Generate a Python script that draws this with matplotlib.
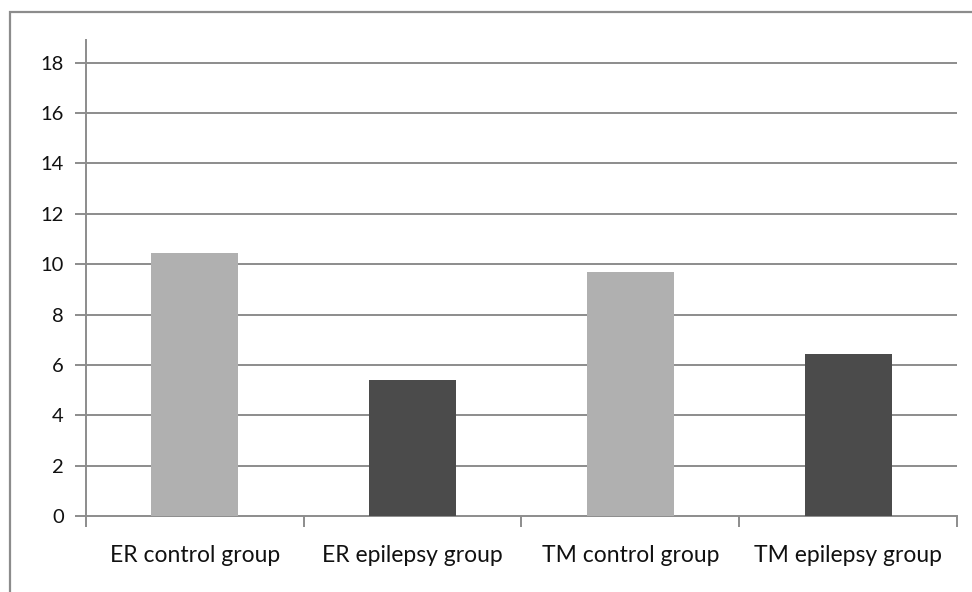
import matplotlib.pyplot as plt
from matplotlib.patches import Rectangle
import numpy as np

plt.rcParams['font.family'] = ['Lato', 'DejaVu Sans']

# Data
groups = ["ER control group", "ER epilepsy group", "TM control group", "TM epilepsy group"]
values = [10.45, 5.4, 9.7, 6.42]
colors = ["#b0b0b0", "#4b4b4b", "#b0b0b0", "#4b4b4b"]
yticks = [0, 2, 4, 6, 8, 10, 12, 14, 16, 18]

fig = plt.figure(figsize=(9.72, 5.92), dpi=100)
ax = fig.add_axes([0.0885, 0.1284, 0.896, 0.804])

# outer chart border (only left and top visible in the reference)
fig.patches.append(Rectangle((10 / 972, -0.05), 1.1, 1 - 12 / 592 + 0.05,
                             transform=fig.transFigure, fill=False,
                             edgecolor="#8c8c8c", linewidth=1.6))

x = np.arange(len(groups))
ax.bar(x, values, width=0.4, color=colors, zorder=3)

ax.set_xlim(-0.5, len(groups) - 0.5)
ax.set_ylim(0, 18.9)
ax.set_yticks(yticks)
ax.tick_params(axis='y', labelsize=14.5, length=8, width=1.4, color="#8c8c8c",
               pad=8, labelcolor="#111111")
for t in yticks[1:]:
    ax.axhline(t, color="#8c8c8c", linewidth=1.4, zorder=1)

ax.set_xticks(x)
ax.set_xticklabels(groups, fontsize=16.5, color="#111111")
ax.tick_params(axis='x', length=0, pad=21)
ax.set_xticks(np.arange(-0.5, len(groups)), minor=True)
ax.tick_params(axis='x', which='minor', length=8, width=1.4, color="#8c8c8c")

for s in ["top", "right"]:
    ax.spines[s].set_visible(False)
for s in ["left", "bottom"]:
    ax.spines[s].set_color("#8c8c8c")
    ax.spines[s].set_linewidth(1.4)

fig.savefig("out.png", dpi=100)
